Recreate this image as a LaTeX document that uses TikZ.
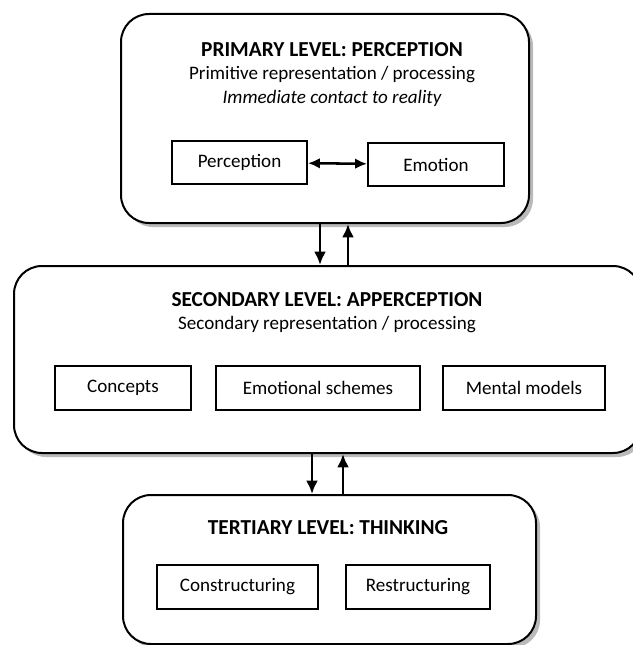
\documentclass[tikz,border=0pt]{standalone}
\usepackage{fontspec}
\setmainfont{Carlito}
\usetikzlibrary{arrows.meta,positioning,shadows}

\begin{document}
\begin{tikzpicture}[x=0.75pt,y=-0.75pt,
  level/.style={draw, line width=1.5pt, rounded corners=21pt, fill=white,
    anchor=north west, inner sep=0pt,
    drop shadow={shadow xshift=3pt, shadow yshift=-3pt, fill=black!45, opacity=.6}},
  item/.style={draw, line width=1.4pt, fill=white, inner sep=0pt,
    minimum height=32.5pt, font=\fontsize{14.3}{17}\selectfont},
  head/.style={font=\bfseries\fontsize{16}{19}\selectfont},
  sub/.style={font=\fontsize{14.3}{17}\selectfont},
  arr/.style={line width=2.2pt, -{Latex[length=10pt,width=9pt]}}
]
  \useasboundingbox (0,0) rectangle (632,645);

  \def \u {0.75pt} % one pixel of the reference

  % the three levels
  \node[level, minimum width=408*\u, minimum height=209*\u] (lvl1) at (120,13) {};
  \node[level, minimum width=627*\u, minimum height=187*\u] (lvl2) at (13,265) {};
  \node[level, minimum width=413*\u, minimum height=149*\u] (lvl3) at (122,494) {};

  % primary level
  \node[head] (t1) at (332,50) {PRIMARY LEVEL: PERCEPTION};
  \node[sub] (s1) at (332,75) {Primitive representation / processing};
  \node[sub, font=\itshape\fontsize{14.3}{17}\selectfont] (r1) at (332,98) {Immediate contact to reality};
  \node[item, minimum width=135*\u] (perc) at (239.5,162.5) {Perception};
  \node[item, minimum width=136*\u] (emo) at (436,164.5) {Emotion};
  \draw[line width=1.9pt, {Latex[length=9pt,width=8pt]}-{Latex[length=9pt,width=8pt]}] (perc) -- (emo);

  % secondary level
  \node[head] (t2) at (327,300) {SECONDARY LEVEL: APPERCEPTION};
  \node[sub] (s2) at (327,325) {Secondary representation / processing};
  \node[item, minimum width=136*\u] (conc) at (123,388) {Concepts};
  \node[item, minimum width=204*\u] (schm) at (318,388) {Emotional schemes};
  \node[item, minimum width=162*\u] (ment) at (524,388) {Mental models};

  % tertiary level
  \node[head] (t3) at (328,528) {TERTIARY LEVEL: THINKING};
  \node[item, minimum width=161*\u] (cons) at (237.5,587) {Constructuring};
  \node[item, minimum width=144*\u] (rest) at (418,587) {Restructuring};

  % arrows between the levels
  \coordinate (d1) at (320,0);
  \coordinate (u1) at (348,0);
  \coordinate (d2) at (312,0);
  \coordinate (u2) at (343,0);
  \draw[arr] (d1 |- lvl1.south) -- (d1 |- lvl2.north);
  \draw[arr] (u1 |- lvl2.north) -- (u1 |- lvl1.south);
  \draw[arr] (d2 |- lvl2.south) -- (d2 |- lvl3.north);
  \draw[arr] (u2 |- lvl3.north) -- (u2 |- lvl2.south);
\end{tikzpicture}
\end{document}
